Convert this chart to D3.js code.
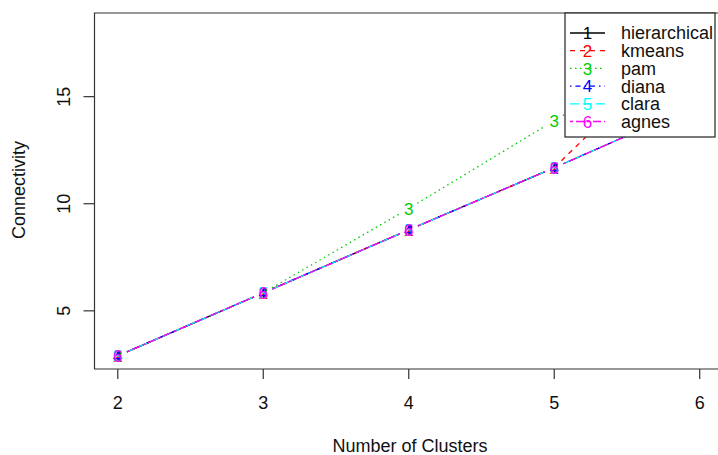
<!DOCTYPE html>
<html>
<head>
<meta charset="utf-8">
<script src="https://cdn.jsdelivr.net/npm/d3@7"></script>
<style>
  body { margin: 0; background: #fff; }
  text { font-family: 'Liberation Sans', Arial, sans-serif; }
</style>
</head>
<body>
<div id="chart"></div>
<script>
// data
var clusters = [2, 3, 4, 5, 6]
var hierarchical = [2.90, 5.84, 8.78, 11.68, 14.67]
var kmeans = [2.90, 5.84, 8.78, 11.68, 18.29]
var pam = [2.90, 5.84, 9.78, 13.88, 17.95]
var diana = [2.90, 5.84, 8.78, 11.68, 14.67]
var clara = [2.90, 5.84, 8.78, 11.68, 14.67]
var agnes = [2.90, 5.84, 8.78, 11.68, 14.67]
var methods = ['hierarchical', 'kmeans', 'pam', 'diana', 'clara', 'agnes']
var colors = ['#000000', '#ff0000', '#00cd00', '#0000ff', '#00ffff', '#ff00ff']
var dashes = ['none', '5,5', '1.5,3.5', '1.5,4,5,4', '9,4', '3,3,8,3']
var xTicks = [2, 3, 4, 5, 6]
var yTicks = [5, 10, 15]

var series = [hierarchical, kmeans, pam, diana, clara, agnes]

var width = 718
var height = 455
var plot = { left: 94.5, right: 723, top: 13, bottom: 369 }
var legendBox = { x: 565, y: 13, w: 150, h: 124 }

var svg = d3
  .select('#chart')
  .append('svg')
  .attr('width', width)
  .attr('height', height)

// R style 4% axis extension
var allVals = d3.merge(series)
var yMin = d3.min(allVals)
var yMax = d3.max(allVals)
var yPad = (yMax - yMin) * 0.04
var xPad = (d3.max(clusters) - d3.min(clusters)) * 0.04

var x = d3
  .scaleLinear()
  .domain([d3.min(clusters) - xPad, d3.max(clusters) + xPad])
  .range([plot.left, plot.right])

var y = d3
  .scaleLinear()
  .domain([yMin - yPad, yMax + yPad])
  .range([plot.bottom, plot.top])

svg
  .append('clipPath')
  .attr('id', 'clip')
  .append('rect')
  .attr('x', plot.left)
  .attr('y', plot.top)
  .attr('width', plot.right - plot.left)
  .attr('height', plot.bottom - plot.top)

var inner = svg.append('g').attr('clip-path', 'url(#clip)')

// points hidden under the legend are not drawn as text
var underLegend = (px, py) =>
  px > legendBox.x - 6 && py < legendBox.y + legendBox.h + 6

// lines with gaps around the point characters (type = "b")
var gap = 10
series.forEach((vals, s) => {
  var g = inner.append('g')
  for (var i = 0; i < vals.length - 1; i++) {
    var x0 = x(clusters[i]), y0 = y(vals[i])
    var x1 = x(clusters[i + 1]), y1 = y(vals[i + 1])
    var len = Math.sqrt((x1 - x0) * (x1 - x0) + (y1 - y0) * (y1 - y0))
    var ux = (x1 - x0) / len, uy = (y1 - y0) / len
    g.append('line')
      .attr('x1', x0 + ux * gap)
      .attr('y1', y0 + uy * gap)
      .attr('x2', x1 - ux * gap)
      .attr('y2', y1 - uy * gap)
      .attr('stroke', colors[s])
      .attr('stroke-width', 1.3)
      .attr('stroke-dasharray', dashes[s])
  }
  var pts = vals
    .map((d, i) => ({ k: clusters[i], v: d }))
    .filter(p => !underLegend(x(p.k), y(p.v)))
  g.selectAll('text')
    .data(pts)
    .enter()
    .append('text')
    .attr('x', p => x(p.k))
    .attr('y', p => y(p.v))
    .attr('dy', '0.36em')
    .attr('text-anchor', 'middle')
    .style('font-size', '17px')
    .style('fill', colors[s])
    .text(s + 1)
})

// box
svg
  .append('path')
  .attr('d', 'M' + plot.right + ',' + plot.top + 'H' + plot.left + 'V' + plot.bottom + 'H' + plot.right)
  .attr('fill', 'none')
  .attr('stroke', '#333')
  .attr('stroke-width', 1.2)

// x axis
var xAxis = svg.append('g')
xAxis
  .selectAll('line')
  .data(xTicks)
  .enter()
  .append('line')
  .attr('x1', d => x(d))
  .attr('x2', d => x(d))
  .attr('y1', plot.bottom)
  .attr('y2', plot.bottom + 10)
  .attr('stroke', '#333')
  .attr('stroke-width', 1.2)
xAxis
  .selectAll('text')
  .data(xTicks)
  .enter()
  .append('text')
  .attr('x', d => x(d))
  .attr('y', 409)
  .attr('text-anchor', 'middle')
  .style('font-size', '18px')
  .style('fill', '#111')
  .text(d => d)

// y axis
var yAxis = svg.append('g')
yAxis
  .selectAll('line')
  .data(yTicks)
  .enter()
  .append('line')
  .attr('x1', plot.left - 11)
  .attr('x2', plot.left)
  .attr('y1', d => y(d))
  .attr('y2', d => y(d))
  .attr('stroke', '#333')
  .attr('stroke-width', 1.2)
yAxis
  .selectAll('text')
  .data(yTicks)
  .enter()
  .append('text')
  .attr('transform', d => 'translate(70,' + y(d) + ') rotate(-90)')
  .attr('text-anchor', 'middle')
  .style('font-size', '18px')
  .style('fill', '#111')
  .text(d => d)

// axis titles
svg
  .append('text')
  .attr('x', 410)
  .attr('y', 452)
  .attr('text-anchor', 'middle')
  .style('font-size', '18px')
  .style('fill', '#111')
  .text('Number of Clusters')

svg
  .append('text')
  .attr('transform', 'translate(25,' + 190 + ') rotate(-90)')
  .attr('text-anchor', 'middle')
  .style('font-size', '18px')
  .style('fill', '#111')
  .text('Connectivity')

// legend
var legend = svg.append('g')
legend
  .append('rect')
  .attr('x', legendBox.x)
  .attr('y', legendBox.y)
  .attr('width', legendBox.w)
  .attr('height', legendBox.h)
  .attr('fill', '#fff')
  .attr('stroke', '#222')
  .attr('stroke-width', 1.2)

var rowY = d => 33 + d * 17.7
methods.forEach((m, i) => {
  legend
    .append('line')
    .attr('x1', 570)
    .attr('x2', 605)
    .attr('y1', rowY(i))
    .attr('y2', rowY(i))
    .attr('stroke', colors[i])
    .attr('stroke-width', 1.3)
    .attr('stroke-dasharray', dashes[i])
  legend
    .append('text')
    .attr('x', 587.5)
    .attr('y', rowY(i))
    .attr('dy', '0.36em')
    .attr('text-anchor', 'middle')
    .style('font-size', '17px')
    .style('fill', colors[i])
    .text(i + 1)
  legend
    .append('text')
    .attr('x', 621)
    .attr('y', rowY(i))
    .attr('dy', '0.36em')
    .style('font-size', '18px')
    .style('fill', '#111')
    .text(m)
})
</script>
</body>
</html>
